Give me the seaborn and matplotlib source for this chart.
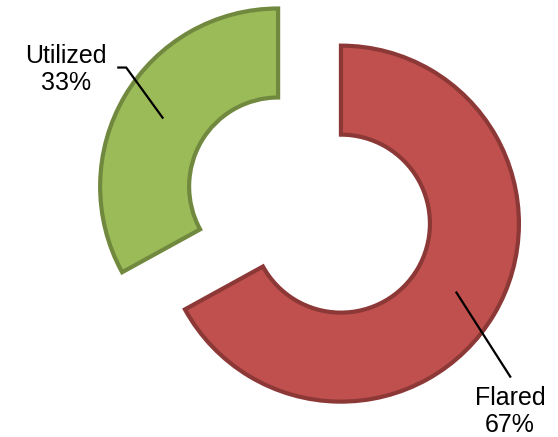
import numpy as np
import matplotlib
matplotlib.use("Agg")
import matplotlib.pyplot as plt
import seaborn as sns

# Data
categories = ["Flared", "Utilized"]
values = [67, 33]
pct_labels = ["67%", "33%"]
fill_colors = ["#C0504D", "#9BBB59"]
edge_colors = ["#8C3836", "#71893F"]

sns.set_theme(style="white")
plt.rcParams["font.family"] = ["Liberation Sans", "DejaVu Sans"]

fig = plt.figure(figsize=(5.58, 4.37), dpi=100)
ax = fig.add_axes([0, 0, 1, 1])

wedges, _ = ax.pie(
    values,
    startangle=90,
    counterclock=False,
    explode=[0.205, 0.205],
    colors=fill_colors,
    radius=1.0,
    wedgeprops=dict(width=0.5, linewidth=3.0),
)
for w, ec in zip(wedges, edge_colors):
    w.set_edgecolor(ec)
    w.set_joinstyle("miter")

ax.set_aspect("equal")
ax.set_xlim(-1.739, 1.396)
ax.set_ylim(-1.303, 1.152)
ax.axis("off")

# label offsets in pixels relative to leader anchor (style/layout only)
scale = 178.0  # pixels per unit radius
label_cfg = {
    "Flared": dict(text=(54, -119.5), line=[(55, -86)]),
    "Utilized": dict(text=(-97, 49), line=[(-37, 51), (-46, 51)]),
}

for w, cat, pct in zip(wedges, categories, pct_labels):
    mid = np.deg2rad((w.theta1 + w.theta2) / 2)
    cx, cy = w.center
    ax_, ay_ = cx + 0.75 * np.cos(mid), cy + 0.75 * np.sin(mid)
    cfg = label_cfg[cat]
    xs = [ax_] + [ax_ + dx / scale for dx, dy in cfg["line"]]
    ys = [ay_] + [ay_ + dy / scale for dx, dy in cfg["line"]]
    ax.plot(xs, ys, color="black", lw=1.6, solid_capstyle="butt")
    tx = ax_ + cfg["text"][0] / scale
    ty = ay_ + cfg["text"][1] / scale
    ax.text(tx, ty, f"{cat}\n{pct}", ha="center", va="center",
            fontsize=18, color="black", linespacing=1.15)

fig.savefig("out.png", dpi=100)
